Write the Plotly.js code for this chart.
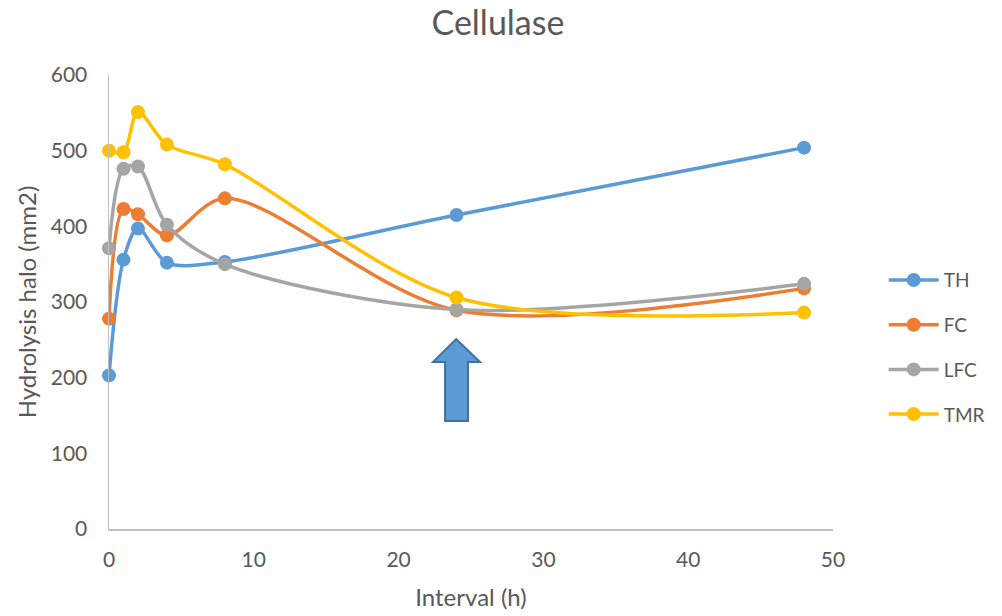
<!DOCTYPE html>
<html>
<head>
<meta charset="utf-8">
<script src="https://cdn.plot.ly/plotly-3.0.1.min.js"></script>
<style>
  html, body { margin: 0; padding: 0; background: #ffffff; }
  #chart { width: 1002px; height: 616px; }
</style>
</head>
<body>
<div id="chart"></div>
<script>
// Sampling intervals (hours)
const hours = [0, 1, 2, 4, 8, 24, 48];

// Hydrolysis halo area (mm2) per treatment
const th  = [203, 356, 397, 352, 353, 415, 504];
const fc  = [278, 423, 416, 388, 437, 289, 318];
const lfc = [371, 476, 479, 402, 350, 290, 324];
const tmr = [500, 498, 551, 508, 482, 306, 286];

const seriesNames  = ['TH', 'FC', 'LFC', 'TMR'];
const seriesValues = [th, fc, lfc, tmr];
const seriesColors = ['#5B9BD5', '#ED7D31', '#A5A5A5', '#FFC000'];

const FONT = 'Lato, "Open Sans", sans-serif';
const TEXT = '#595959';

const traces = seriesNames.map((name, i) => ({
  type: 'scatter',
  mode: 'lines+markers',
  name: name,
  legendgroup: name,
  x: hours,
  y: seriesValues[i],
  cliponaxis: false,
  line: { color: seriesColors[i], width: 3.5, shape: 'spline', smoothing: 0.9 },
  marker: { color: seriesColors[i], size: 14 }
}));

// Block arrow marking the 24 h sample
const arrowPath = 'M 23.97 251 L 25.62 220.7 L 24.79 220.7 L 24.79 142.7 ' +
                  'L 23.21 142.7 L 23.21 220.7 L 22.38 220.7 Z';

const layout = {
  width: 1002,
  height: 616,
  paper_bgcolor: '#ffffff',
  plot_bgcolor: '#ffffff',
  margin: { l: 109, r: 167, t: 75, b: 87 },
  font: { family: FONT, color: TEXT, size: 20 },
  title: {
    text: 'Cellulase',
    font: { family: FONT, size: 34, color: TEXT },
    x: 0.497, xanchor: 'center',
    y: 0.963, yanchor: 'middle'
  },
  xaxis: {
    range: [0, 50],
    tickvals: [0, 10, 20, 30, 40, 50],
    showgrid: false,
    zeroline: false,
    showline: true,
    linecolor: '#BFBFBF',
    linewidth: 1.5,
    ticks: '',
    tickfont: { family: FONT, size: 21, color: TEXT },
    ticklabelstandoff: 11,
    title: { text: 'Interval (h)', font: { family: FONT, size: 24, color: TEXT }, standoff: 19 }
  },
  yaxis: {
    range: [0, 600],
    tickvals: [0, 100, 200, 300, 400, 500, 600],
    showgrid: false,
    zeroline: false,
    showline: true,
    linecolor: '#BFBFBF',
    linewidth: 1.5,
    ticks: '',
    tickfont: { family: FONT, size: 21, color: TEXT },
    ticklabelstandoff: 16,
    title: { text: 'Hydrolysis halo (mm2)', font: { family: FONT, size: 24, color: TEXT }, standoff: 7 }
  },
  legend: {
    x: 1.07, xanchor: 'left',
    y: 0.59, yanchor: 'top',
    font: { family: FONT, size: 19, color: TEXT },
    tracegroupgap: 17,
    itemwidth: 50,
    bgcolor: 'rgba(0,0,0,0)'
  },
  shapes: [{
    type: 'path',
    xref: 'x', yref: 'y',
    path: arrowPath,
    fillcolor: '#5B9BD5',
    line: { color: '#41719C', width: 2 },
    layer: 'above'
  }]
};

Plotly.newPlot('chart', traces, layout, { displayModeBar: false, staticPlot: true });
</script>
</body>
</html>
